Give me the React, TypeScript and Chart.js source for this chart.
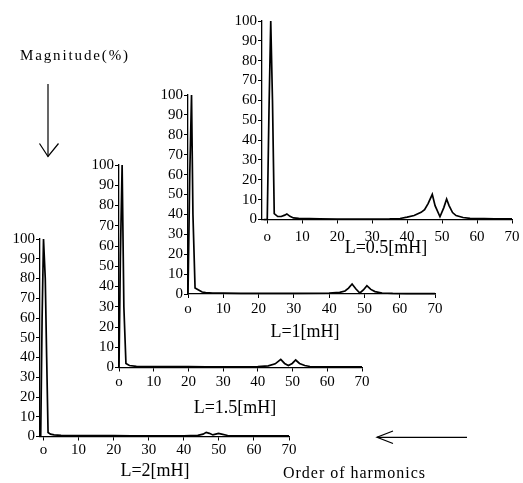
import React, { useEffect, useRef } from "react";
import { Chart, registerables } from "chart.js";

Chart.register(...registerables);

// ---- data ----
const X_TICKS = [0, 10, 20, 30, 40, 50, 60, 70];
const Y_TICKS = [0, 10, 20, 30, 40, 50, 60, 70, 80, 90, 100];

const LABEL_05 = "L=0.5[mH]";
const LABEL_1 = "L=1[mH]";
const LABEL_15 = "L=1.5[mH]";
const LABEL_2 = "L=2[mH]";

const Y_TITLE = "Magnitude(%)";
const X_TITLE = "Order of harmonics";

// harmonic order / magnitude (%)
const ORDERS_05 = [-1, 0, 0.5, 1, 1.5, 2, 3, 4, 5, 5.6, 6.5, 7.5, 9, 12, 15, 20, 25, 30, 35, 38, 40, 42, 44, 45, 46, 47.2, 48, 49.4, 50.5, 51.3, 52, 53, 54, 56, 58, 60, 62, 65, 70];
const MAG_05 = [0, 0, 55, 100, 60, 3, 1.5, 1.5, 2.2, 2.8, 1.6, 0.8, 0.6, 0.4, 0.3, 0.2, 0.2, 0.2, 0.3, 0.5, 1.2, 2, 3.6, 5, 8, 12.7, 7, 1.4, 6, 10.3, 7, 3.5, 2, 1, 0.6, 0.5, 0.4, 0.3, 0.3];

const ORDERS_1 = [0, 0.5, 1, 1.4, 2, 3, 4, 5, 7, 10, 15, 20, 30, 40, 43, 44.5, 45.5, 46.5, 47.6, 48.7, 49.7, 50.7, 51.8, 53, 55, 58, 62, 70];
const MAG_1 = [0, 60, 100, 40, 3, 2, 1, 0.7, 0.5, 0.4, 0.3, 0.3, 0.3, 0.4, 0.8, 1.5, 3, 5, 2.5, 0.5, 2, 4.2, 2.3, 1.2, 0.5, 0.3, 0.2, 0.2];

const ORDERS_15 = [0, 0.4, 0.9, 1.4, 2, 3, 5, 8, 10, 15, 20, 25, 30, 40, 43, 45, 46.6, 47.7, 48.8, 49.9, 50.9, 52, 53.5, 55, 58, 62, 70];
const MAG_15 = [0, 55, 100, 30, 2, 1, 0.6, 0.5, 0.5, 0.4, 0.5, 0.3, 0.3, 0.4, 0.8, 1.8, 4, 2, 1, 2, 3.7, 2, 1, 0.5, 0.3, 0.3, 0.3];

const ORDERS_2 = [-0.8, -0.4, 0, 0.5, 0.9, 1.3, 2, 3, 5, 10, 15, 20, 25, 30, 40, 44, 45.5, 46.4, 47.3, 48.3, 49.1, 49.9, 50.8, 52.5, 55, 60, 65, 70];
const MAG_2 = [0, 60, 100, 80, 40, 2, 1.2, 0.8, 0.6, 0.5, 0.5, 0.4, 0.3, 0.3, 0.3, 0.6, 1.2, 2.1, 1.6, 0.8, 1.2, 1.6, 1.2, 0.5, 0.3, 0.3, 0.3, 0.3];

const FONT = "'Liberation Serif', 'DejaVu Serif', serif";

type Lay = {
  axL: number; axR: number; top: number; bot: number;
  xMin: number; rw: number; tpt: number; xPad: number;
};

const PL_TOTAL = 40;
const YW = 36;
const PT = 12;
const XH = 24;
const TITLE_SIZE = 18;

function Panel({ label, xs, ys, lay }: { label: string; xs: number[]; ys: number[]; lay: Lay }) {
  const ref = useRef<HTMLCanvasElement>(null);
  const plotW = lay.axR - lay.axL;
  const plotH = lay.bot - lay.top;
  const th = TITLE_SIZE * 1.2 + lay.tpt;
  const W = Math.ceil(PL_TOTAL + plotW + lay.rw + 6);
  const H = Math.ceil(PT + plotH + XH + th + 14);
  const padRight = W - PL_TOTAL - plotW - lay.rw;
  const padBottom = H - PT - plotH - XH - th;
  const left = lay.axL - PL_TOTAL;
  const top = lay.top - PT;

  useEffect(() => {
    if (!ref.current) return;
    const chart = new Chart(ref.current, {
      type: "line",
      data: {
        datasets: [
          {
            data: xs.map((x, i) => ({ x, y: ys[i] })),
            borderColor: "#000",
            borderWidth: 1.7,
            pointRadius: 0,
            tension: 0,
            fill: false,
            clip: false as any,
            xAxisID: "x",
            yAxisID: "y",
          },
        ],
      },
      options: {
        responsive: false,
        animation: false,
        devicePixelRatio: 1,
        layout: {
          padding: { left: PL_TOTAL - YW, top: PT, right: padRight, bottom: padBottom },
        },
        plugins: {
          legend: { display: false },
          tooltip: { enabled: false },
          title: {
            display: true,
            text: label,
            position: "bottom",
            color: "#000",
            font: { family: FONT, size: TITLE_SIZE, weight: "normal", lineHeight: 1.2 },
            padding: { top: lay.tpt, bottom: 0 },
          },
        },
        scales: {
          x: {
            type: "linear",
            position: "bottom",
            min: lay.xMin,
            max: 70,
            afterFit: (s: any) => { s.height = XH; },
            afterBuildTicks: (s: any) => { s.ticks = X_TICKS.map((v) => ({ value: v })); },
            grid: { display: true, drawOnChartArea: false, drawTicks: true, tickLength: 4, color: "#000", lineWidth: 1 },
            border: { display: true, color: "#000", width: 1.3 },
            ticks: {
              autoSkip: false,
              maxRotation: 0,
              padding: lay.xPad,
              color: "#000",
              font: { family: FONT, size: 15 },
              callback: (v: any) => (v === 0 ? "o" : String(v)),
            },
          },
          y: {
            type: "linear",
            position: "left",
            min: 0,
            max: 100,
            afterFit: (s: any) => { s.width = YW; },
            afterBuildTicks: (s: any) => { s.ticks = Y_TICKS.map((v) => ({ value: v })); },
            grid: { display: true, drawOnChartArea: false, drawTicks: true, tickLength: 4, color: "#000", lineWidth: 1 },
            border: { display: true, color: "#000", width: 1.3 },
            ticks: {
              autoSkip: false,
              padding: 1,
              color: "#000",
              font: { family: FONT, size: 15 },
            },
          },
          yr: {
            type: "linear",
            position: "right",
            display: true,
            min: 0,
            max: 1,
            afterFit: (s: any) => { s.width = lay.rw; },
            grid: { display: false, drawTicks: false },
            border: { display: false },
            ticks: { display: false },
          },
        },
      } as any,
    });
    return () => chart.destroy();
  }, []);

  return (
    <canvas
      ref={ref}
      width={W}
      height={H}
      style={{ position: "absolute", left, top, width: W, height: H }}
    />
  );
}

const LAY_05: Lay = { axL: 262, axR: 512, top: 21, bot: 219.5, xMin: -1.5, rw: 34, tpt: -6, xPad: 5 };
const LAY_1: Lay = { axL: 188, axR: 435, top: 95, bot: 294, xMin: 0, rw: 23, tpt: 3, xPad: 2 };
const LAY_15: Lay = { axL: 119, axR: 362, top: 165, bot: 367.5, xMin: 0, rw: 25, tpt: 6, xPad: 2 };
const LAY_2: Lay = { axL: 40, axR: 289, top: 239, bot: 436.5, xMin: -1, rw: 17, tpt: 0, xPad: 1 };

export default function App() {
  return (
    <div style={{ position: "absolute", left: 0, top: 0, width: 523, height: 483, background: "#fff", overflow: "hidden" }}>
      <Panel label={LABEL_05} xs={ORDERS_05} ys={MAG_05} lay={LAY_05} />
      <Panel label={LABEL_1} xs={ORDERS_1} ys={MAG_1} lay={LAY_1} />
      <Panel label={LABEL_15} xs={ORDERS_15} ys={MAG_15} lay={LAY_15} />
      <Panel label={LABEL_2} xs={ORDERS_2} ys={MAG_2} lay={LAY_2} />
      <svg width={523} height={483} style={{ position: "absolute", left: 0, top: 0, pointerEvents: "none" }}>
        <text x={20} y={59.5} fontFamily={FONT} fontSize={15} fill="#000" textLength={108} lengthAdjust="spacing">
          {Y_TITLE}
        </text>
        <g stroke="#000" strokeWidth={1.2} fill="none">
          <line x1={48} y1={84} x2={48} y2={156.5} />
          <polyline points="39.5,143.5 48,156.5 58.5,143.5" />
          <line x1={377} y1={437.3} x2={467} y2={437.3} />
          <polyline points="393,431 377,437.3 393,443.5" />
        </g>
        <text x={283} y={478} fontFamily={FONT} fontSize={16} fill="#000" textLength={142} lengthAdjust="spacing">
          {X_TITLE}
        </text>
      </svg>
    </div>
  );
}
